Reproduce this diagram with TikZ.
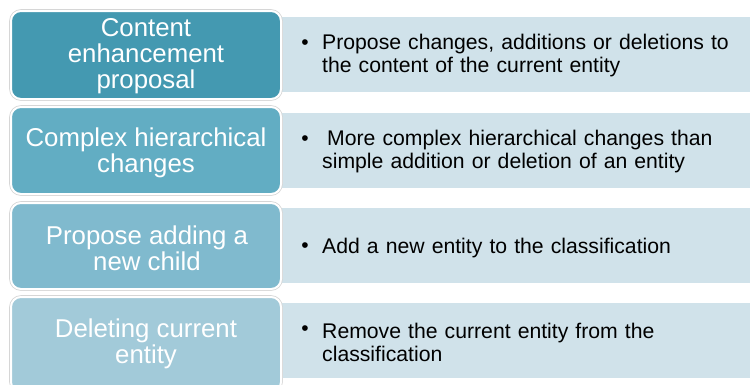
\documentclass[tikz,border=0pt]{standalone}
\usepackage{fontspec}
\setmainfont{Liberation Sans}
\begin{document}
\begin{tikzpicture}[x=1pt,y=-1pt,
  leftbox/.style={rounded corners=10pt, draw=white, line width=2pt,
    preaction={draw=black!16, line width=3.6pt}},
  rightbox/.style={fill=rbg},
  lefttext/.style={text=white, align=center, font=\fontsize{25.8}{25.8}\selectfont},
  bulletdot/.style={anchor=center, font=\fontsize{21}{23}\selectfont, inner sep=0pt},
  righttext/.style={anchor=west, align=left, text width=425pt, inner sep=0pt, font=\fontsize{21.2}{23}\selectfont}
]
\definecolor{rbg}{HTML}{D0E2EA}
\definecolor{cA}{HTML}{4499B1}
\definecolor{cB}{HTML}{62ADC3}
\definecolor{cC}{HTML}{80BACE}
\definecolor{cD}{HTML}{A2CAD9}
\useasboundingbox (0,0) rectangle (750,384);
\clip (0,0) rectangle (750,384);
\fill[white] (0,0) rectangle (750,384);
% right boxes
\fill[rightbox] (270,17) rectangle (750,92);
\fill[rightbox] (270,113) rectangle (750,188);
\fill[rightbox] (270,208) rectangle (750,283);
\fill[rightbox] (270,303) rectangle (750,378);
% left boxes
\path[leftbox, fill=cA] (11,11) rectangle (281,99);
\path[leftbox, fill=cB] (11,107) rectangle (281,194);
\path[leftbox, fill=cC] (11,203) rectangle (281,289);
\path[leftbox, fill=cD] (11,297) rectangle (281,392);
% left texts
\node[lefttext] (t1) at (146,56) {Content\\enhancement\\proposal};
\node[lefttext] (t2) at (146,153) {Complex hierarchical\\changes};
\node[lefttext] (t3) at (147,248) {Propose adding a\\new child};
\node[lefttext] (t4) at (146,344) {Deleting current\\entity};
% right texts
\node[bulletdot] (b1) at (305,45) {•};
\node[righttext] (r1) at (322,56) {Propose changes, additions or deletions to\\the content of the current entity};
\node[bulletdot] (b2) at (305,141) {•};
\node[righttext] (r2) at (322,152) {\hspace{5pt}More complex hierarchical changes than\\simple addition or deletion of an entity};
\node[bulletdot] (b3) at (305,248) {•};
\node[righttext] (r3) at (322,248) {Add a new entity to the classification};
\node[bulletdot] (b4) at (305,331) {•};
\node[righttext] (r4) at (322,342) {Remove the current entity from the\\classification};
\end{tikzpicture}
\end{document}
